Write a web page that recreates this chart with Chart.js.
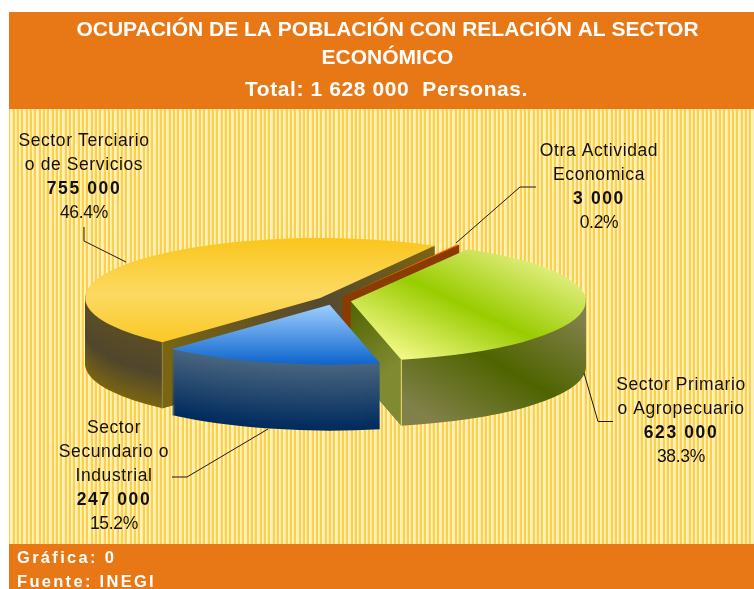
<!DOCTYPE html>
<html>
<head>
<meta charset="utf-8">
<title>Ocupación de la población</title>
<style>
    html, body { margin: 0; padding: 0; background: #fff; overflow: hidden; }
    canvas { display: block; }
</style>
<script src="https://cdn.jsdelivr.net/npm/chart.js@4"></script>
</head>
<body>
<canvas id="chart" width="754" height="589"></canvas>
<script>
// Data
const categories = ['Sector Terciario o de Servicios', 'Otra Actividad Economica', 'Sector Primario o Agropecuario', 'Sector Secundario o Industrial'];
const personas = [755000, 3000, 623000, 247000];
const valueLabels = ['755 000', '3 000', '623 000', '247 000'];
const percentLabels = ['46.4%', '0.2%', '38.3%', '15.2%'];
const labelLines = [
    ['Sector Terciario', 'o de Servicios'],
    ['Otra Actividad', 'Economica'],
    ['Sector Primario', 'o Agropecuario'],
    ['Sector', 'Secundario o', 'Industrial']
];
const titleLines = ['OCUPACIÓN DE LA POBLACIÓN CON RELACIÓN AL SECTOR', 'ECONÓMICO'];
const subtitleLine = 'Total: 1 628 000  Personas.';
const footerLines = ['Gráfica: 0', 'Fuente: INEGI'];

// Layout of the labels and their leader lines
const labelCenters = [[84, 141], [599, 151], [681, 385], [114, 428]];
const leaders = [
    [[84, 227], [84, 241], [126, 262]],
    [[536, 187], [520, 187], [456, 243]],
    [[613, 421.5], [598, 421.5], [584, 373]],
    [[172, 477], [187, 477], [268, 429]]
];

// Pie geometry on the page
const PIE_X = 334, PIE_Y = 300.5, FLATTEN = 0.255, DEPTH = 66, EXPLODE = 17;
const ORANGE = '#e87716';

function mix(a, b, t) {
    const c = [0, 1, 2].map(i => Math.round(a[i] + (b[i] - a[i]) * t));
    return `rgb(${c[0]},${c[1]},${c[2]})`;
}

function stops(list, t) {
    const n = list.length - 1;
    const i = Math.min(Math.floor(t * n), n - 1);
    return mix(list[i], list[i + 1], t * n - i);
}

const yellowSide = [[92, 78, 38], [80, 71, 45], [122, 101, 18]];
const orangeSide = [[138, 60, 0], [138, 60, 0]];
const blueSide = [[74, 102, 128], [0, 43, 94]];

const stripes = document.createElement('canvas');
stripes.width = 13;
stripes.height = 1;
['#fdd04a', '#fdd04a', '#fff2c0', '#ffeaa4', '#fdd04a', '#fdd04a', '#fff2c0', '#ffeaa4', '#fdd04a', '#fdd04a', '#fff2c0', '#fff2c0', '#ffeaa4'].forEach((c, i) => {
    const s = stripes.getContext('2d');
    s.fillStyle = c;
    s.fillRect(i, 0, 1, 1);
});

// Page furniture behind the chart
const backdrop = {
    id: 'backdrop',
    beforeDraw(chart) {
        const ctx = chart.ctx;
        ctx.save();
        ctx.fillStyle = '#fff';
        ctx.fillRect(0, 0, 754, 589);
        ctx.fillStyle = ctx.createPattern(stripes, 'repeat');
        ctx.fillRect(9, 109, 745, 435);
        ctx.fillStyle = ORANGE;
        ctx.fillRect(9, 12, 745, 97);
        ctx.fillRect(9, 544, 745, 45);
        ctx.restore();
    }
};

// Draws the arcs flattened and extruded, with every slice pulled out from the centre
const pie3d = {
    id: 'pie3d',
    beforeDatasetDraw(chart) {
        const ctx = chart.ctx;
        const arcs = chart.getDatasetMeta(0).data;

        arcs.forEach((arc, i) => {
            const mid = (arc.startAngle + arc.endAngle) / 2;
            const ex = Math.cos(mid) * EXPLODE, ey = Math.sin(mid) * EXPLODE;

            const place = d => {
                ctx.translate(PIE_X + ex, PIE_Y + FLATTEN * ey + d);
                ctx.scale(1, FLATTEN);
                ctx.translate(-arc.x, -arc.y);
            };
            // gradient given in page coordinates, for a layer at depth d.
            // the flattening would tilt its bands, so the vector is corrected in pie space
            const grad = (x0, y0, x1, y1, colors, d) => {
                const lx = x => x - PIE_X - ex + arc.x;
                const ly = y => (y - PIE_Y - FLATTEN * ey - d) / FLATTEN + arc.y;
                const ux = -(y1 - y0), uy = (x1 - x0) / FLATTEN;
                const len = Math.hypot(ux, uy);
                const nx = uy / len, ny = -ux / len;
                const reach = (lx(x1) - lx(x0)) * nx + (ly(y1) - ly(y0)) * ny;
                const g = ctx.createLinearGradient(lx(x0), ly(y0), lx(x0) + nx * reach, ly(y0) + ny * reach);
                colors.forEach((c, k) => g.addColorStop(k / (colors.length - 1), c));
                return g;
            };
            const paint = (d, fill) => {
                const saved = arc.options;
                arc.options = { backgroundColor: fill, borderColor: fill, borderWidth: 0, borderAlign: 'center', offset: 0, spacing: 0, circular: true };
                ctx.save();
                place(d);
                arc.draw(ctx);
                ctx.restore();
                arc.options = saved;
            };

            // outer wall
            for (let d = DEPTH; d >= 1; d--) {
                const t = d / DEPTH;
                if (i === 0) paint(d, stops(yellowSide, t));
                if (i === 1) paint(d, stops(orangeSide, t));
                if (i === 2) paint(d, grad(463, 436, 543, 298, ['#808048', '#4f6400', '#808048'], d));
                if (i === 3) paint(d, stops(blueSide, t));
            }

            // cut faces that look towards the viewer
            const apex = [PIE_X + ex, PIE_Y + FLATTEN * ey];
            const corner = a => [apex[0] + Math.cos(a) * arc.outerRadius, apex[1] + Math.sin(a) * arc.outerRadius * FLATTEN];
            const face = (a, fill, lineColor) => {
                const c = corner(a);
                ctx.save();
                ctx.fillStyle = fill(apex, c);
                ctx.beginPath();
                ctx.moveTo(apex[0], apex[1]);
                ctx.lineTo(c[0], c[1]);
                ctx.lineTo(c[0], c[1] + DEPTH);
                ctx.lineTo(apex[0], apex[1] + DEPTH);
                ctx.closePath();
                ctx.fill();
                if (lineColor) {
                    ctx.strokeStyle = lineColor;
                    ctx.lineWidth = 1;
                    ctx.beginPath();
                    ctx.moveTo(c[0], c[1]);
                    ctx.lineTo(c[0], c[1] + DEPTH);
                    ctx.stroke();
                }
                ctx.restore();
            };
            const along = (colors) => (p, c) => {
                const g = ctx.createLinearGradient(p[0], p[1], c[0], c[1]);
                colors.forEach((s, k) => g.addColorStop(k / (colors.length - 1), s));
                return g;
            };
            if (i === 0) {
                face(arc.startAngle, along(['#544a30', '#7a6512']), '#9a8a50');
                face(arc.endAngle, along(['#544a30', '#7a6512']));
            }
            if (i === 1) face(arc.endAngle, () => '#8a3c00');
            if (i === 2) face(arc.endAngle, along(['#4f6400', '#808a30']), '#f0e070');

            // top surface
            if (i === 0) paint(0, grad(0, 238, 0, 350, ['#fac61c', '#fcd962', '#fac61c'], 0));
            if (i === 1) paint(0, '#ff6600');
            if (i === 2) paint(0, grad(441, 380, 507, 240, ['#f6fa8c', '#99cc00', '#e6f088'], 0));
            if (i === 3) paint(0, grad(0, 304, 0, 366, ['#a0d0ff', '#0a62cc'], 0));
        });
        return false;
    },
    afterDraw(chart) {
        const ctx = chart.ctx;
        ctx.save();
        ctx.textAlign = 'center';
        ctx.textBaseline = 'middle';

        // third header line
        ctx.fillStyle = '#fff';
        ctx.font = 'bold 21px "Liberation Sans"';
        ctx.letterSpacing = '0.6px';
        ctx.fillText(subtitleLine, 386.5, 90);

        // leader lines
        ctx.fillStyle = '#111';
        ctx.strokeStyle = '#1a1a1a';
        ctx.lineWidth = 1;
        leaders.forEach(pts => {
            ctx.beginPath();
            pts.forEach((p, k) => k ? ctx.lineTo(p[0], p[1]) : ctx.moveTo(p[0], p[1]));
            ctx.stroke();
        });

        // labels
        labelLines.forEach((lines, i) => {
            const [x, y0] = labelCenters[i];
            let y = y0;
            ctx.font = '17.5px "Liberation Sans"';
            ctx.letterSpacing = '0.6px';
            lines.forEach(line => {
                ctx.fillText(line, x, y);
                y += 24;
            });
            ctx.font = 'bold 17.5px "Liberation Sans"';
            ctx.letterSpacing = '1.6px';
            ctx.fillText(valueLabels[i], x, y);
            y += 24;
            ctx.font = '17.5px "Liberation Sans"';
            ctx.letterSpacing = '-0.3px';
            ctx.fillText(percentLabels[i], x, y);
        });

        // footer
        ctx.textAlign = 'left';
        ctx.fillStyle = '#fff';
        ctx.font = 'bold 16.5px "Liberation Sans"';
        ctx.letterSpacing = '2.3px';
        footerLines.forEach((line, i) => ctx.fillText(line, 17, 558 + i * 24.5));
        ctx.restore();
    }
};

new Chart(document.getElementById('chart'), {
    type: 'pie',
    data: {
        labels: categories,
        datasets: [{
            data: personas,
            backgroundColor: ['#fac61c', '#ff6600', '#99cc00', '#0a62cc'],
            borderWidth: 0,
            clip: false
        }]
    },
    plugins: [backdrop, pie3d],
    options: {
        responsive: false,
        animation: false,
        rotation: 222.2,
        radius: 235,
        layout: { padding: { left: 21 } },
        plugins: {
            legend: { display: false },
            tooltip: { enabled: false },
            title: {
                display: true,
                text: titleLines,
                color: '#fff',
                font: { family: '"Liberation Sans"', size: 21, weight: 'bold', lineHeight: 1.34 },
                padding: { top: 16, bottom: 0 }
            }
        }
    }
});
</script>
</body>
</html>
